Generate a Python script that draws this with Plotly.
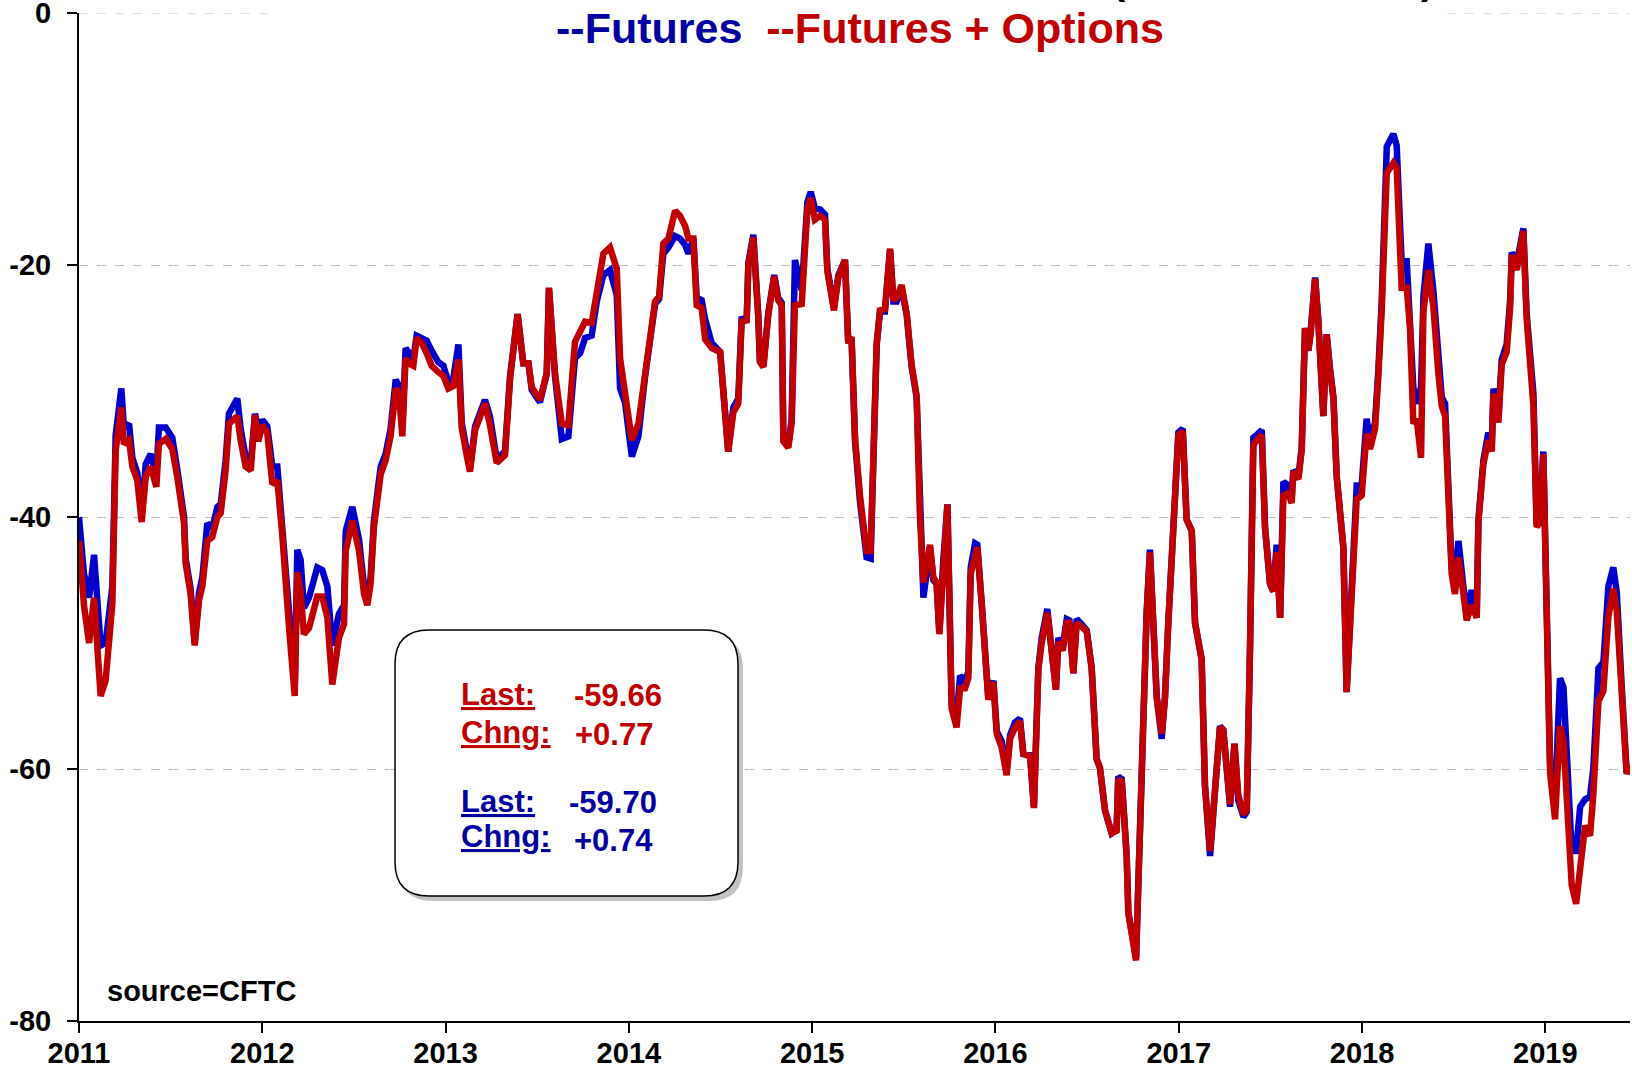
import plotly.graph_objects as go

# ---------------- data ----------------
years = [
    2011.000, 2011.027, 2011.055, 2011.082, 2011.118, 2011.145, 2011.182, 2011.200, 2011.231, 2011.245,
    2011.273, 2011.291, 2011.318, 2011.342, 2011.364, 2011.391, 2011.422, 2011.436, 2011.473, 2011.509,
    2011.536, 2011.573, 2011.582, 2011.609, 2011.631, 2011.655, 2011.673, 2011.700, 2011.727, 2011.755,
    2011.773, 2011.800, 2011.818, 2011.864, 2011.882, 2011.909, 2011.937, 2011.960, 2011.978, 2012.000,
    2012.027, 2012.055, 2012.082, 2012.109, 2012.146, 2012.177, 2012.191, 2012.209, 2012.227, 2012.255,
    2012.300, 2012.327, 2012.355, 2012.382, 2012.418, 2012.446, 2012.455, 2012.491, 2012.528, 2012.555,
    2012.573, 2012.591, 2012.609, 2012.646, 2012.673, 2012.700, 2012.728, 2012.746, 2012.764, 2012.782,
    2012.797, 2012.824, 2012.842, 2012.870, 2012.897, 2012.924, 2012.960, 2012.988, 2013.015, 2013.042,
    2013.070, 2013.088, 2013.115, 2013.133, 2013.161, 2013.215, 2013.242, 2013.279, 2013.324, 2013.352,
    2013.393, 2013.424, 2013.452, 2013.470, 2013.515, 2013.552, 2013.564, 2013.597, 2013.634, 2013.670,
    2013.706, 2013.734, 2013.761, 2013.797, 2013.825, 2013.861, 2013.897, 2013.934, 2013.952, 2013.979,
    2014.016, 2014.052, 2014.088, 2014.116, 2014.143, 2014.165, 2014.188, 2014.216, 2014.252, 2014.279,
    2014.307, 2014.325, 2014.352, 2014.370, 2014.397, 2014.416, 2014.452, 2014.498, 2014.542, 2014.570,
    2014.597, 2014.615, 2014.643, 2014.652, 2014.679, 2014.706, 2014.715, 2014.734, 2014.761, 2014.793,
    2014.815, 2014.834, 2014.843, 2014.870, 2014.888, 2014.906, 2014.943, 2014.974, 2014.992, 2015.015,
    2015.043, 2015.070, 2015.083, 2015.119, 2015.143, 2015.179, 2015.197, 2015.215, 2015.234, 2015.261,
    2015.297, 2015.319, 2015.334, 2015.352, 2015.370, 2015.397, 2015.425, 2015.443, 2015.461, 2015.488,
    2015.516, 2015.543, 2015.570, 2015.588, 2015.607, 2015.643, 2015.661, 2015.679, 2015.694, 2015.716,
    2015.738, 2015.761, 2015.788, 2015.807, 2015.834, 2015.852, 2015.865, 2015.889, 2015.901, 2015.925,
    2015.943, 2015.961, 2015.989, 2016.007, 2016.034, 2016.061, 2016.080, 2016.107, 2016.134, 2016.152,
    2016.189, 2016.210, 2016.234, 2016.252, 2016.283, 2016.307, 2016.330, 2016.343, 2016.367, 2016.389,
    2016.403, 2016.425, 2016.443, 2016.470, 2016.498, 2016.525, 2016.552, 2016.570, 2016.598, 2016.634,
    2016.661, 2016.670, 2016.689, 2016.716, 2016.725, 2016.767, 2016.798, 2016.825, 2016.843, 2016.862,
    2016.880, 2016.907, 2016.925, 2016.943, 2016.962, 2016.980, 2016.998, 2017.022, 2017.043, 2017.071,
    2017.089, 2017.125, 2017.143, 2017.171, 2017.198, 2017.225, 2017.243, 2017.262, 2017.280, 2017.304,
    2017.325, 2017.353, 2017.371, 2017.389, 2017.407, 2017.425, 2017.453, 2017.471, 2017.498, 2017.516,
    2017.534, 2017.553, 2017.571, 2017.598, 2017.616, 2017.625, 2017.653, 2017.671, 2017.689, 2017.707,
    2017.720, 2017.744, 2017.762, 2017.789, 2017.807, 2017.825, 2017.844, 2017.862, 2017.898, 2017.916,
    2017.944, 2017.971, 2017.998, 2018.025, 2018.044, 2018.071, 2018.089, 2018.107, 2018.135, 2018.171,
    2018.189, 2018.216, 2018.244, 2018.262, 2018.280, 2018.298, 2018.322, 2018.335, 2018.362, 2018.389,
    2018.417, 2018.435, 2018.453, 2018.471, 2018.489, 2018.507, 2018.526, 2018.553, 2018.571, 2018.598,
    2018.626, 2018.635, 2018.662, 2018.689, 2018.708, 2018.717, 2018.744, 2018.762, 2018.789, 2018.808,
    2018.817, 2018.844, 2018.880, 2018.898, 2018.917, 2018.935, 2018.953, 2018.971, 2018.989, 2019.008,
    2019.026, 2019.053, 2019.080, 2019.099, 2019.126, 2019.144, 2019.168, 2019.190, 2019.217, 2019.244,
    2019.262, 2019.290, 2019.317, 2019.344, 2019.371, 2019.390, 2019.417, 2019.444, 2019.462,
]

futures_options = [
    -41.9, -47.0, -50.0, -46.4, -54.2, -53.0, -46.9, -34.7, -31.3, -34.2,
    -33.9, -36.0, -37.1, -40.4, -36.8, -36.0, -37.6, -34.2, -33.8, -34.6,
    -36.8, -40.5, -43.7, -46.1, -50.2, -46.6, -45.5, -41.9, -41.6, -40.0,
    -39.7, -36.3, -32.6, -32.0, -33.9, -36.0, -36.3, -31.9, -34.0, -32.7,
    -33.3, -37.4, -37.1, -41.4, -48.8, -54.2, -44.4, -45.9, -49.3, -48.8,
    -46.3, -46.3, -48.0, -53.3, -49.6, -48.5, -42.7, -40.3, -42.7, -46.1,
    -47.0, -45.3, -40.8, -36.6, -35.5, -33.6, -29.8, -30.2, -33.6, -27.4,
    -27.8, -28.0, -25.8, -26.2, -27.0, -28.0, -28.5, -28.8, -29.8, -29.6,
    -27.5, -32.9, -35.1, -36.4, -33.1, -31.0, -32.7, -35.7, -35.1, -29.0,
    -23.9, -27.8, -27.8, -29.7, -30.7, -28.6, -21.8, -28.6, -32.6, -32.7,
    -26.1, -25.3, -24.5, -24.6, -22.4, -19.1, -18.6, -20.3, -27.4, -30.1,
    -33.9, -32.6, -28.4, -25.3, -22.9, -22.5, -18.3, -17.9, -15.7, -16.1,
    -16.9, -17.9, -17.9, -23.2, -23.4, -25.9, -26.6, -26.9, -34.8, -31.7,
    -31.0, -24.5, -24.4, -20.0, -17.8, -24.1, -27.7, -28.1, -23.9, -20.9,
    -22.8, -23.2, -34.0, -34.5, -32.5, -23.2, -23.1, -15.6, -14.7, -16.4,
    -16.1, -16.4, -20.5, -23.6, -21.0, -19.6, -26.2, -25.7, -33.8, -38.3,
    -42.7, -42.7, -33.1, -26.2, -23.6, -23.5, -18.7, -22.8, -22.6, -21.6,
    -23.9, -28.0, -30.4, -40.0, -45.2, -42.2, -44.8, -45.2, -49.3, -43.4,
    -39.0, -55.2, -56.7, -53.6, -53.6, -52.8, -44.5, -43.1, -42.4, -46.9,
    -51.0, -54.5, -53.1, -57.2, -58.3, -60.5, -57.6, -56.7, -56.2, -58.8,
    -59.0, -63.1, -52.1, -50.0, -47.6, -51.3, -53.7, -49.9, -50.6, -48.4,
    -48.4, -52.4, -48.4, -48.7, -49.1, -52.0, -59.2, -59.9, -63.3, -65.1,
    -64.9, -60.8, -61.0, -66.9, -71.4, -75.2, -59.6, -47.6, -42.8, -49.1,
    -54.3, -57.2, -54.3, -48.4, -42.8, -39.4, -33.5, -33.2, -40.2, -41.1,
    -48.4, -51.3, -61.3, -66.5, -62.1, -56.7, -56.9, -59.5, -62.8, -58.0,
    -62.1, -63.6, -63.2, -50.3, -34.3, -33.9, -33.5, -40.9, -45.3, -45.9,
    -42.8, -48.0, -38.3, -38.1, -38.9, -36.4, -37.0, -34.6, -25.0, -26.8,
    -25.4, -21.1, -24.6, -32.0, -25.5, -28.3, -30.6, -36.8, -42.4, -53.9,
    -44.6, -38.6, -38.3, -33.4, -34.6, -33.0, -28.8, -23.7, -12.7, -11.9,
    -12.3, -21.8, -21.8, -25.1, -32.6, -32.2, -35.3, -23.7, -20.4, -23.3,
    -28.7, -31.2, -32.0, -37.4, -44.5, -46.1, -43.2, -46.1, -48.2, -47.0,
    -48.0, -40.4, -35.8, -33.9, -34.8, -30.2, -32.5, -27.9, -26.9, -23.4,
    -19.2, -20.4, -17.3, -24.2, -28.8, -31.2, -40.8, -40.4, -35.0, -49.5,
    -60.3, -64.0, -56.6, -57.8, -64.5, -69.2, -70.7, -67.8, -64.5, -65.3,
    -62.0, -54.6, -53.8, -47.9, -45.7, -47.5, -54.2, -60.4, -59.66,
]

futures = [
    -40.0, -44.5, -46.4, -43.0, -50.2, -50.0, -45.5, -33.5, -29.8, -32.9,
    -32.6, -35.3, -36.5, -39.7, -35.8, -35.0, -36.8, -32.9, -32.9, -33.7,
    -36.2, -40.0, -43.3, -45.7, -50.0, -46.0, -44.8, -40.5, -40.9, -39.2,
    -39.0, -35.5, -31.8, -30.6, -33.0, -35.2, -35.8, -31.8, -33.1, -32.3,
    -32.8, -36.0, -36.0, -40.5, -47.5, -53.5, -42.6, -43.4, -47.2, -46.4,
    -44.0, -44.2, -45.5, -50.2, -47.7, -47.0, -41.1, -39.2, -41.8, -45.5,
    -46.5, -44.8, -40.3, -36.0, -35.0, -33.0, -29.1, -29.6, -33.0, -26.6,
    -27.0, -27.5, -25.6, -25.8, -26.0, -26.8, -27.7, -28.0, -29.3, -29.0,
    -26.3, -32.5, -34.8, -36.2, -32.8, -30.7, -32.0, -35.4, -34.8, -28.8,
    -23.9, -27.8, -27.8, -29.9, -30.9, -28.6, -21.9, -28.8, -33.8, -33.6,
    -27.4, -27.0, -25.8, -25.6, -22.9, -20.8, -20.4, -22.4, -29.8, -30.9,
    -35.2, -33.6, -28.9, -25.6, -23.1, -22.7, -19.1, -18.6, -17.7, -17.9,
    -18.4, -19.1, -17.9, -22.6, -22.8, -24.3, -26.2, -26.9, -34.8, -31.3,
    -30.6, -24.3, -24.2, -19.8, -17.6, -24.0, -27.6, -28.0, -23.8, -20.8,
    -22.6, -23.0, -33.8, -34.3, -32.3, -19.6, -22.0, -15.0, -14.2, -15.5,
    -15.6, -16.0, -20.3, -23.4, -20.8, -19.6, -26.2, -25.9, -34.0, -38.8,
    -43.2, -43.3, -33.3, -26.4, -23.7, -23.7, -18.8, -22.9, -22.9, -21.8,
    -24.0, -28.1, -30.5, -40.3, -46.4, -42.4, -45.0, -45.3, -49.2, -43.3,
    -39.0, -54.8, -56.0, -52.6, -53.0, -52.3, -44.0, -42.1, -42.2, -46.8,
    -51.0, -54.3, -53.0, -57.0, -57.8, -60.2, -57.3, -56.3, -56.0, -58.8,
    -58.9, -63.0, -52.0, -49.6, -47.3, -51.3, -53.7, -49.6, -50.3, -48.1,
    -48.2, -52.4, -48.1, -48.5, -49.0, -52.0, -59.2, -59.9, -63.3, -65.1,
    -64.8, -60.6, -60.8, -66.9, -71.4, -75.0, -59.6, -47.6, -42.6, -49.1,
    -54.3, -57.6, -54.3, -48.4, -42.8, -39.4, -33.3, -33.0, -40.2, -41.1,
    -48.4, -51.3, -61.3, -66.9, -62.1, -56.6, -56.9, -59.5, -63.0, -58.0,
    -62.5, -63.8, -63.4, -50.3, -33.7, -33.5, -33.1, -40.9, -45.3, -45.9,
    -42.2, -48.0, -37.2, -37.5, -38.6, -36.3, -36.8, -34.5, -25.0, -26.8,
    -25.2, -21.0, -24.5, -32.0, -25.5, -28.2, -30.5, -36.8, -42.4, -53.9,
    -44.6, -37.5, -37.5, -32.2, -34.0, -32.5, -28.3, -23.0, -10.6, -9.6,
    -10.5, -19.7, -19.7, -24.3, -29.7, -31.0, -29.7, -22.5, -18.3, -22.0,
    -28.0, -30.5, -31.0, -37.0, -44.0, -45.0, -41.9, -45.5, -47.6, -45.8,
    -47.5, -40.2, -35.5, -33.3, -34.2, -29.8, -32.0, -27.5, -26.3, -22.8,
    -19.0, -19.9, -17.1, -23.8, -28.0, -30.2, -40.6, -40.0, -34.8, -49.0,
    -59.6, -62.5, -52.8, -53.5, -61.6, -66.5, -66.5, -63.0, -62.4, -62.2,
    -59.9, -52.0, -51.5, -45.5, -44.0, -46.0, -53.5, -60.3, -59.70,
]

x_ticks = [2011, 2012, 2013, 2014, 2015, 2016, 2017, 2018, 2019]
y_ticks = [0, -20, -40, -60, -80]

last_fo, chng_fo = "-59.66", "+0.77"
last_f, chng_f = "-59.70", "+0.74"

# ---------------- layout geometry (pixels) ----------------
W, H = 1632, 1070
L, R, T, B = 79, 1630, 13, 1021
PW, PH = R - L, B - T

def px(x):
    return (x - L) / PW

def py(y):
    return (B - y) / PH

BLUE_LINE = "#0000CC"
RED_LINE = "#C00000"
BLUE_TXT = "#0000A0"
RED_TXT = "#C00000"
FONT = "Arial, 'Liberation Sans', sans-serif"

fig = go.Figure()
fig.add_trace(go.Scatter(x=years, y=futures, mode="lines",
                         line=dict(color=BLUE_LINE, width=6.5), name="Futures"))
fig.add_trace(go.Scatter(x=years, y=futures_options, mode="lines",
                         line=dict(color=RED_LINE, width=6.5), name="Futures + Options"))

def rounded_path(x0, y0, x1, y1, r):
    rx, ry = r / PW, r / PH
    a0, a1 = px(x0), px(x1)
    b0, b1 = py(y1), py(y0)
    return (f"M {a0+rx},{b1} L {a1-rx},{b1} Q {a1},{b1} {a1},{b1-ry} "
            f"L {a1},{b0+ry} Q {a1},{b0} {a1-rx},{b0} L {a0+rx},{b0} "
            f"Q {a0},{b0} {a0},{b0+ry} L {a0},{b1-ry} Q {a0},{b1} {a0+rx},{b1} Z")

shapes = [
    # top (0) gridline
    dict(type="line", xref="paper", yref="y", x0=0, x1=1, y0=0, y1=0,
         line=dict(color="#BDBDBD", width=1, dash="dash"), layer="above"),
    # white band behind the title (hides part of the 0 gridline)
    dict(type="rect", xref="paper", yref="paper", x0=px(276), x1=px(1446),
         y0=py(22), y1=py(0), fillcolor="white", line=dict(width=0), layer="above"),
    # shadow of the stats box
    dict(type="path", xref="paper", yref="paper",
         path=rounded_path(399, 635, 743, 901, 34),
         fillcolor="rgba(120,120,120,0.45)", line=dict(width=0), layer="above"),
    # stats box
    dict(type="path", xref="paper", yref="paper",
         path=rounded_path(395, 630, 738, 896, 34),
         fillcolor="white", line=dict(color="black", width=1.5), layer="above"),
]

ann = []
ann.append(dict(xref="paper", yref="paper", x=px(860), y=py(28),
                xanchor="center", yanchor="middle", showarrow=False,
                text=(f"<b><span style='color:{BLUE_TXT}'>--Futures</span>"
                      f"&#160;&#160;<span style='color:{RED_TXT}'>--Futures + Options</span></b>"),
                font=dict(family=FONT, size=43)))
# bits of the cut-off chart title above the page
for cx, ch in [(1119, "("), (1427, ")")]:
    ann.append(dict(xref="paper", yref="paper", x=px(cx), y=py(-20),
                    xanchor="center", yanchor="middle", showarrow=False,
                    text=f"<b>{ch}</b>", font=dict(family=FONT, size=40, color="black")))

def box_text(x, y, txt, color, anchor="left"):
    ann.append(dict(xref="paper", yref="paper", x=px(x), y=py(y),
                    xanchor=anchor, yanchor="middle", showarrow=False,
                    text=txt, font=dict(family=FONT, size=31, color=color)))

box_text(459, 694, "<b><u>Last:</u></b>", RED_TXT)
box_text(572, 695, f"<b>{last_fo}</b>", RED_TXT)
box_text(459, 732, "<b><u>Chng:</u></b>", RED_TXT)
box_text(573, 734, f"<b>{chng_fo}</b>", RED_TXT)
box_text(459, 801, "<b><u>Last:</u></b>", BLUE_TXT)
box_text(567, 802, f"<b>{last_f}</b>", BLUE_TXT)
box_text(459, 836, "<b><u>Chng:</u></b>", BLUE_TXT)
box_text(572, 840, f"<b>{chng_f}</b>", BLUE_TXT)

ann.append(dict(xref="paper", yref="paper", x=px(105), y=py(991),
                xanchor="left", yanchor="middle", showarrow=False,
                text="<b>source=CFTC</b>", font=dict(family=FONT, size=29, color="black")))

fig.update_layout(
    width=W, height=H,
    margin=dict(l=L, r=W - R, t=T, b=H - B, pad=0, autoexpand=False),
    paper_bgcolor="white", plot_bgcolor="white",
    showlegend=False,
    shapes=shapes, annotations=ann,
    font=dict(family=FONT, color="black"),
)
fig.update_xaxes(
    range=[2011, 2019.462], tickvals=x_ticks, ticktext=[f"<b>{v}</b>" for v in x_ticks],
    showline=True, linecolor="black", linewidth=2, mirror=False,
    ticks="outside", ticklen=10, tickwidth=1.5, tickcolor="black",
    tickfont=dict(family=FONT, size=29, color="black"), ticklabelstandoff=-5,
    showgrid=False, zeroline=False, automargin=False, ticklabeloverflow="allow",
)
fig.update_yaxes(
    range=[-80, 0], tickvals=y_ticks, ticktext=[f"<b>{v}</b>" for v in y_ticks],
    showline=True, linecolor="black", linewidth=2,
    ticks="outside", ticklen=10, tickwidth=1.5, tickcolor="black",
    tickfont=dict(family=FONT, size=29, color="black"), ticklabelstandoff=10,
    showgrid=True, gridcolor="#BDBDBD", gridwidth=1, griddash="dash",
    zeroline=False, automargin=False, ticklabeloverflow="allow",
)

fig.write_html(
    "out.html",
    config={"displayModeBar": False},
    post_script="document.body.style.margin='0';document.body.style.padding='0';"
                "document.body.style.overflow='hidden';",
)
